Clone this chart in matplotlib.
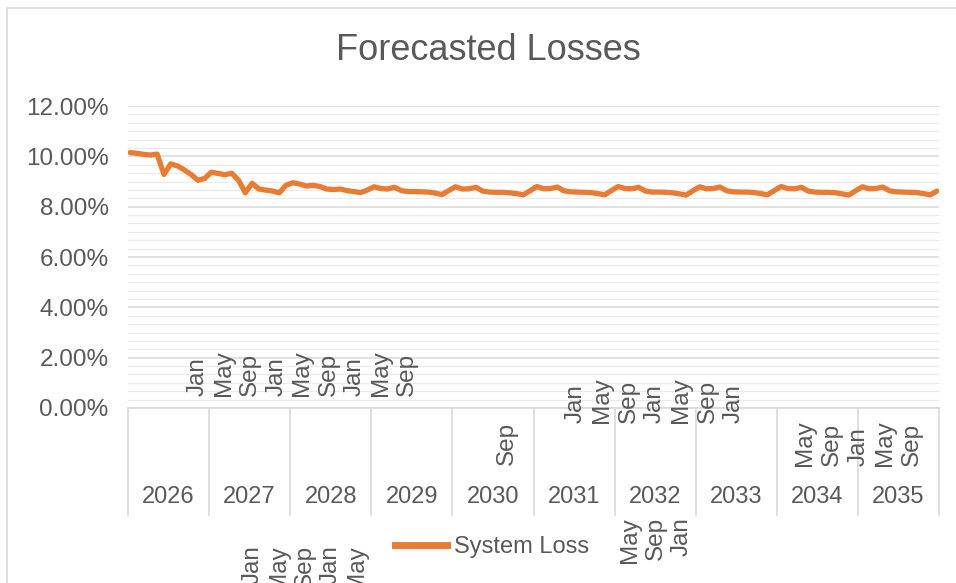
import numpy as np
import matplotlib.pyplot as plt
from matplotlib.lines import Line2D
from matplotlib.patches import Rectangle
from matplotlib.ticker import MultipleLocator, FuncFormatter

plt.rcParams['font.family'] = ['Liberation Sans', 'DejaVu Sans']

# monthly system loss, Jan 2026 .. Dec 2035 (%)
loss_2026 = [10.15, 10.12, 10.08, 10.05, 10.09, 9.28, 9.70, 9.62, 9.46, 9.28, 9.05, 9.12]
loss_2027 = [9.37, 9.32, 9.27, 9.33, 9.05, 8.55, 8.93, 8.70, 8.66, 8.62, 8.55, 8.85]
loss_2028 = [8.95, 8.90, 8.82, 8.85, 8.80, 8.70, 8.68, 8.70, 8.64, 8.60, 8.56, 8.66]
loss_2029 = [8.79, 8.72, 8.70, 8.77, 8.64, 8.60, 8.60, 8.59, 8.58, 8.54, 8.48, 8.64]
loss_2030 = [8.79, 8.70, 8.71, 8.77, 8.62, 8.58, 8.57, 8.57, 8.55, 8.52, 8.47, 8.63]
loss_2031 = [8.80, 8.71, 8.72, 8.78, 8.63, 8.59, 8.58, 8.57, 8.56, 8.52, 8.47, 8.64]
loss_2032 = [8.80, 8.72, 8.71, 8.77, 8.62, 8.58, 8.58, 8.57, 8.55, 8.51, 8.46, 8.63]
loss_2033 = [8.79, 8.71, 8.72, 8.78, 8.63, 8.59, 8.58, 8.58, 8.56, 8.52, 8.47, 8.64]
loss_2034 = [8.80, 8.72, 8.71, 8.77, 8.62, 8.58, 8.57, 8.57, 8.55, 8.51, 8.46, 8.63]
loss_2035 = [8.79, 8.71, 8.72, 8.78, 8.63, 8.59, 8.58, 8.57, 8.56, 8.52, 8.47, 8.62]

years = ['2026', '2027', '2028', '2029', '2030', '2031', '2032', '2033', '2034', '2035']

# stray month labels as they appear in the source image
months_a = ['Jan', 'May', 'Sep', 'Jan', 'May', 'Sep', 'Jan', 'May', 'Sep']
months_b = ['Sep']
months_c = ['Jan', 'May', 'Sep', 'Jan', 'May', 'Sep', 'Jan']
months_d = ['May', 'Sep', 'Jan', 'May', 'Sep']
months_e = ['Jan', 'May', 'Sep', 'Jan', 'May']
months_f = ['May', 'Sep', 'Jan']

loss = np.array(loss_2026 + loss_2027 + loss_2028 + loss_2029 + loss_2030 +
                loss_2031 + loss_2032 + loss_2033 + loss_2034 + loss_2035)

W, H = 956, 583
TXT = '#595959'
fig = plt.figure(figsize=(W / 100, H / 100), dpi=100)


def fx(px):
    return px / W


def fy(py):
    return 1 - py / H


# chart border
fig.patches.append(Rectangle((fx(7), fy(H + 5)), fx(W + 5), fy(8) - fy(H + 5),
                             transform=fig.transFigure, fill=False,
                             edgecolor='#d9d9d9', lw=1.2))

ax = fig.add_axes([fx(128), fy(408), fx(939) - fx(128), fy(106) - fy(408)])
ax.plot(np.arange(len(loss)), loss, color='#E97C35', lw=3.8, solid_capstyle='round',
        solid_joinstyle='round')

ax.set_xlim(-0.3, len(loss) - 1 + 0.3)
ax.set_ylim(0, 12)
ax.yaxis.set_major_locator(MultipleLocator(2))
ax.yaxis.set_minor_locator(MultipleLocator(2 / 6))
ax.yaxis.set_major_formatter(FuncFormatter(lambda v, p: f'{v:.2f}%'))
ax.grid(axis='y', which='major', color='#d9d9d9', lw=1.1)
ax.grid(axis='y', which='minor', color='#ebebeb', lw=0.9)
ax.set_axisbelow(True)
ax.tick_params(axis='y', which='both', length=0, labelsize=17.5, labelcolor=TXT, pad=14)
ax.set_xticks([])
for s in ['top', 'right', 'left']:
    ax.spines[s].set_visible(False)
ax.spines['bottom'].set_color('#d9d9d9')
ax.spines['bottom'].set_linewidth(1.2)

# multi-level category axis: year boxes
depth = (515 - 408) / (408 - 106)
for k in range(len(years) + 1):
    ax.plot([k / len(years)] * 2, [0, -depth], transform=ax.transAxes,
            color='#d9d9d9', lw=1.2, clip_on=False)
for k, yr in enumerate(years):
    ax.text((k + 0.5) / len(years), -(497 - 408) / (408 - 106), yr,
            transform=ax.transAxes, ha='center', va='center',
            fontsize=17, color=TXT)

# title
fig.text(fx(488), fy(50), 'Forecasted Losses', ha='center', va='center',
         fontsize=26, color=TXT)


def month_group(labels, x0, step, y, va):
    for i, lab in enumerate(labels):
        fig.text(fx(x0 + i * step), fy(y), lab, rotation=90, ha='center', va=va,
                 fontsize=17.5, color=TXT)


month_group(months_a, 198, 26.1, 396, 'bottom')
month_group(months_b, 507, 26.0, 465, 'bottom')
month_group(months_c, 576, 26.3, 423, 'bottom')
month_group(months_d, 805, 26.75, 466, 'bottom')
month_group(months_e, 253, 26.0, 545, 'top')
month_group(months_f, 630, 26.0, 517, 'top')

# legend
handle = Line2D([], [], color='#E97C35', lw=5)
fig.legend([handle], ['System Loss'], loc='center', bbox_to_anchor=(fx(492), fy(547)),
           frameon=False, fontsize=17, labelcolor=TXT, handlelength=2.2,
           handletextpad=0.3, borderpad=0)

fig.savefig('out.png', dpi=100)
